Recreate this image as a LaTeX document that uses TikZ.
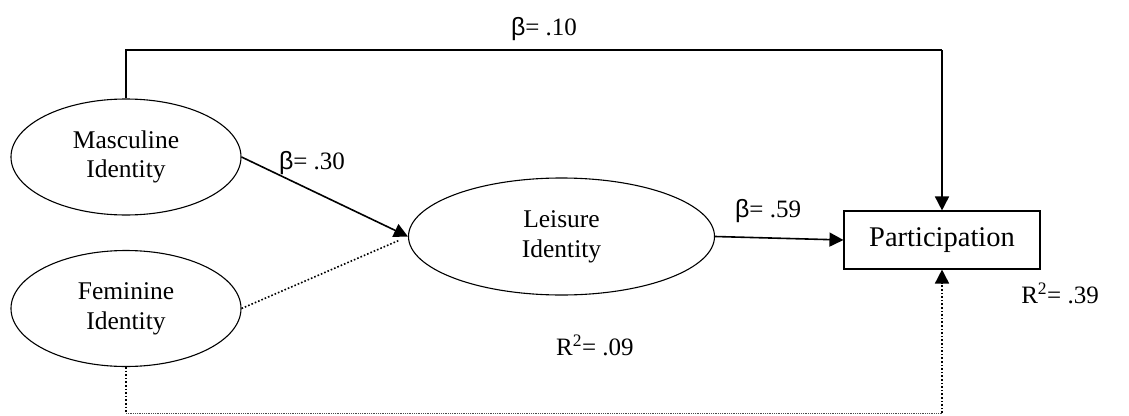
\documentclass[tikz,border=0pt]{standalone}
\usepackage{fontspec}
\setmainfont{Liberation Serif}
\newfontfamily\betafont{Liberation Sans}
\usetikzlibrary{shapes.geometric,arrows.meta,calc}
\newcommand{\twoline}[2]{{\fontsize{25.5}{29.5}\selectfont\begin{tabular}{@{}c@{}}#1\\#2\end{tabular}}}
\tikzset{
  latent/.style={draw, line width=1.1pt, ellipse, minimum width=230pt, minimum height=116pt, inner sep=0pt},
  observed/.style={draw, line width=1.1pt, rectangle, minimum width=196pt, minimum height=58pt, inner sep=0pt, font=\fontsize{28.5}{32}\selectfont},
  path/.style={line width=1.6pt, -{Triangle[length=14pt,width=14pt]}},
  plain/.style={line width=1.6pt},
  dotpath/.style={line width=1.6pt, dotted},
  thindot/.style={line width=0.8pt, densely dotted, black!70},
  lbl/.style={font=\fontsize{25}{30}\selectfont, inner sep=0pt}
}
\newcommand{\bet}{{\betafont β}}
\begin{document}
\begin{tikzpicture}[x=1pt,y=-1pt]
\useasboundingbox (0,0) rectangle (1129,415);
\node[latent] (masc) at (126,157) {\twoline{Masculine}{Identity}};
\node[latent] (fem) at (126,308.5) {\twoline{Feminine}{Identity}};
\node[latent, minimum width=306pt, minimum height=117pt] (leis) at (561.5,236.5) {\twoline{Leisure}{Identity}};
\node[observed] (part) at (942,240) {Participation};
\coordinate (topy) at (0,50);
\coordinate (boty) at (0,413);
% solid paths
\draw[plain] (masc.north) |- (topy -| part.north) coordinate (tr);
\draw[path] (tr) -- (part.north);
\draw[path] (masc.east) -- (leis.west);
\draw[path] (leis.east) -- (part.west);
% dotted paths
\draw[dotpath, shorten >=9pt] (fem.east) -- (leis.west);
\draw[dotpath] (fem.south) -- (boty -| fem.south) coordinate (bl);
\draw[thindot] (bl) -- (boty -| part.south) coordinate (br);
\draw[dotpath, -{Triangle[length=14pt,width=14pt]}] (br) -- (part.south);
% labels
\node[lbl] (l10) at (544,29) {\bet= .10};
\node[lbl] (l30) at (312,163) {\bet= .30};
\node[lbl] (l59) at (768,211) {\bet= .59};
\node[lbl] (r09) at (595,345) {R\textsuperscript{2}= .09};
\node[lbl] (r39) at (1060,293) {R\textsuperscript{2}= .39};
\end{tikzpicture}
\end{document}
